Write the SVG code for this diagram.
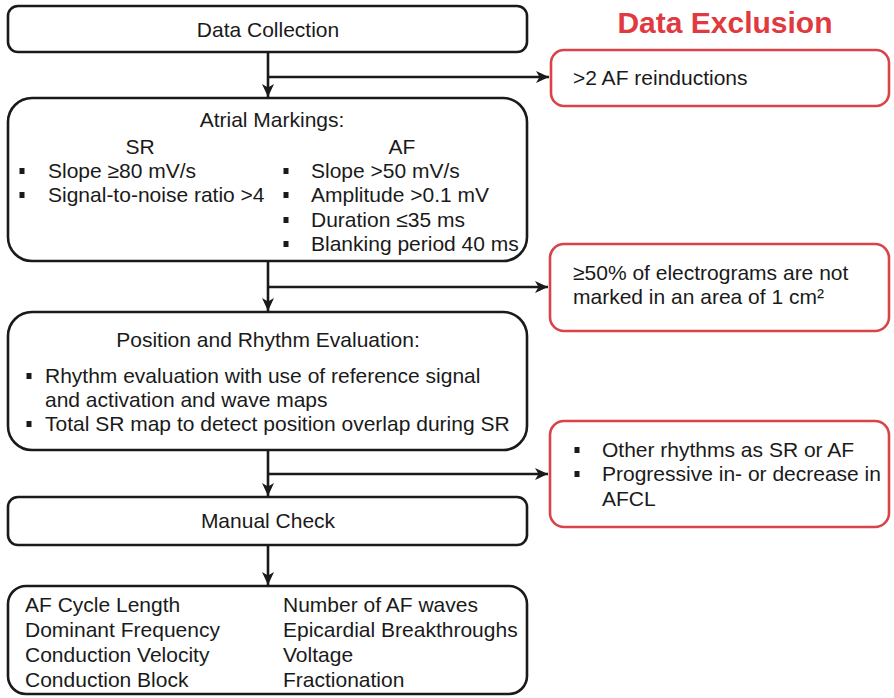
<svg xmlns="http://www.w3.org/2000/svg" width="894" height="698" viewBox="0 0 894 698">
<defs>
<style>
.box{fill:#fff;stroke:#1a1a1a;stroke-width:2.6}
.rbox{fill:#fff;stroke:#d9434a;stroke-width:2.6}
.t{font-family:"Liberation Sans",Arial,sans-serif;font-size:21px;fill:#1a1a1a}
.c{text-anchor:middle}
.title{font-family:"Liberation Sans",Arial,sans-serif;font-size:30px;font-weight:bold;fill:#e03a40;text-anchor:middle}
.ln{fill:none;stroke:#1a1a1a;stroke-width:2.6}
.b{fill:#1a1a1a}
</style>
<marker id="ah" markerUnits="userSpaceOnUse" markerWidth="14" markerHeight="14" viewBox="0 0 14 14" refX="13" refY="7" orient="auto">
<path d="M0,1 L13,7 L0,13 L3.5,7 z" fill="#1a1a1a"/>
</marker>
</defs>
<rect width="894" height="698" fill="#fff"/>

<text class="title" x="725" y="33">Data Exclusion</text>

<g id="connectors">
<path class="ln" d="M268,52 V97" marker-end="url(#ah)"/>
<path class="ln" d="M268,77 H549" marker-end="url(#ah)"/>
<path class="ln" d="M268,261 V311" marker-end="url(#ah)"/>
<path class="ln" d="M268,287 H548" marker-end="url(#ah)"/>
<path class="ln" d="M268,450 V496" marker-end="url(#ah)"/>
<path class="ln" d="M268,474 H548" marker-end="url(#ah)"/>
<path class="ln" d="M268,545 V585" marker-end="url(#ah)"/>
</g>

<g id="data-collection">
<rect class="box" x="8" y="6" width="519" height="46" rx="10"/>
<text class="t c" x="268" y="37">Data Collection</text>
</g>

<g id="exclusion-1">
<rect class="rbox" x="551" y="50" width="338" height="56" rx="13"/>
<text class="t" x="573" y="85">&gt;2 AF reinductions</text>
</g>

<g id="atrial-markings">
<rect class="box" x="8" y="98" width="519" height="163" rx="24"/>
<text class="t c" x="272" y="127">Atrial Markings:</text>
<text class="t c" x="140" y="154">SR</text>
<text class="t c" x="402" y="154">AF</text>
<rect class="b" x="19.5" y="168" width="5" height="6"/>
<text class="t" x="48" y="178">Slope ≥80 mV/s</text>
<rect class="b" x="19.5" y="192" width="5" height="6"/>
<text class="t" x="48" y="202">Signal-to-noise ratio &gt;4</text>
<rect class="b" x="283.5" y="168" width="5" height="6"/>
<text class="t" x="311" y="178">Slope &gt;50 mV/s</text>
<rect class="b" x="283.5" y="192" width="5" height="6"/>
<text class="t" x="311" y="202">Amplitude &gt;0.1 mV</text>
<rect class="b" x="283.5" y="217" width="5" height="6"/>
<text class="t" x="311" y="227">Duration ≤35 ms</text>
<rect class="b" x="283.5" y="241" width="5" height="6"/>
<text class="t" x="311" y="251">Blanking period 40 ms</text>
</g>

<g id="exclusion-2">
<rect class="rbox" x="550" y="244" width="339" height="87" rx="14"/>
<text class="t" x="573" y="280">≥50% of electrograms are not</text>
<text class="t" x="573" y="304">marked in an area of 1 cm²</text>
</g>

<g id="position-rhythm">
<rect class="box" x="8" y="312" width="519" height="138" rx="24"/>
<text class="t c" x="268" y="347">Position and Rhythm Evaluation:</text>
<rect class="b" x="26.5" y="373" width="5" height="6"/>
<text class="t" x="45" y="383">Rhythm evaluation with use of reference signal</text>
<text class="t" x="45" y="407">and activation and wave maps</text>
<rect class="b" x="26.5" y="421" width="5" height="6"/>
<text class="t" x="45" y="431">Total SR map to detect position overlap during SR</text>
</g>

<g id="exclusion-3">
<rect class="rbox" x="550" y="421" width="339" height="106" rx="14"/>
<rect class="b" x="574.5" y="447" width="5" height="6"/>
<text class="t" x="602" y="457">Other rhythms as SR or AF</text>
<rect class="b" x="574.5" y="471" width="5" height="6"/>
<text class="t" x="602" y="481">Progressive in- or decrease in</text>
<text class="t" x="602" y="506">AFCL</text>
</g>

<g id="manual-check">
<rect class="box" x="8" y="497" width="519" height="48" rx="10"/>
<text class="t c" x="268" y="528">Manual Check</text>
</g>

<g id="outcomes">
<rect class="box" x="8" y="586" width="519" height="108" rx="18"/>
<text class="t" x="25" y="612">AF Cycle Length</text>
<text class="t" x="25" y="637">Dominant Frequency</text>
<text class="t" x="25" y="662">Conduction Velocity</text>
<text class="t" x="25" y="687">Conduction Block</text>
<text class="t" x="283" y="612">Number of AF waves</text>
<text class="t" x="283" y="637">Epicardial Breakthroughs</text>
<text class="t" x="283" y="662">Voltage</text>
<text class="t" x="283" y="687">Fractionation</text>
</g>
</svg>
